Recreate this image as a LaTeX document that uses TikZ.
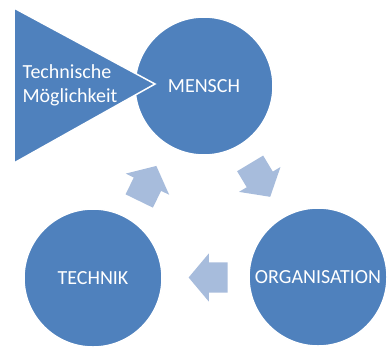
\documentclass[tikz,border=0pt]{standalone}
\usepackage{fontspec}
\setmainfont{Carlito}
\usepackage{tikz}
\usetikzlibrary{calc,positioning,shapes.arrows}
\definecolor{kreisblau}{RGB}{79,129,189}
\definecolor{pfeilblau}{RGB}{167,188,220}
\tikzstyle{kreis} = [circle,fill=kreisblau,draw=white,line width=1.5,minimum size=138,inner sep=0,text=white,font=\fontsize{20}{24}\selectfont]
\tikzstyle{pfeil} = [single arrow,fill=pfeilblau,single arrow head extend=9,single arrow tip angle=100,minimum height=39,inner xsep=2,inner ysep=15]
\tikzstyle{schrift} = [text=white,font=\fontsize{20}{24}\selectfont,align=left]

\begin{document}
\begin{tikzpicture}[x=1pt,y=-1pt]
	\useasboundingbox (0,0) rectangle (390,348);
	\begin{scope}
		\node[kreis] (mensch) at (204,86) {MENSCH};
		\node[kreis] (orga) at (318,277) {ORGANISATION};
		\node[kreis] (technik) at (93,278) {TECHNIK};
		
		% Dreieck vor dem Kreis
		\coordinate (d1) at (14,8);
		\coordinate (d2) at (155,84);
		\coordinate (d3) at (14,163);
		\filldraw[fill=kreisblau,draw=white,line width=1.5] (d1) -- (d2) -- (d3) -- cycle;
		\node[schrift,anchor=west] (moegl) at (19,85) {Technische\\Möglichkeit};
		
		\node[pfeil,rotate=-59,xshift=-8] (pf1) at ($(mensch)!.5!(orga)$) {};
		\node[pfeil,rotate=180,xshift=-9] (pf2) at ($(orga)!.5!(technik)$) {};
		\node[pfeil,rotate=64,xshift=-8] (pf3) at ($(technik)!.5!(mensch)$) {};
	\end{scope}
\end{tikzpicture}
\end{document}
